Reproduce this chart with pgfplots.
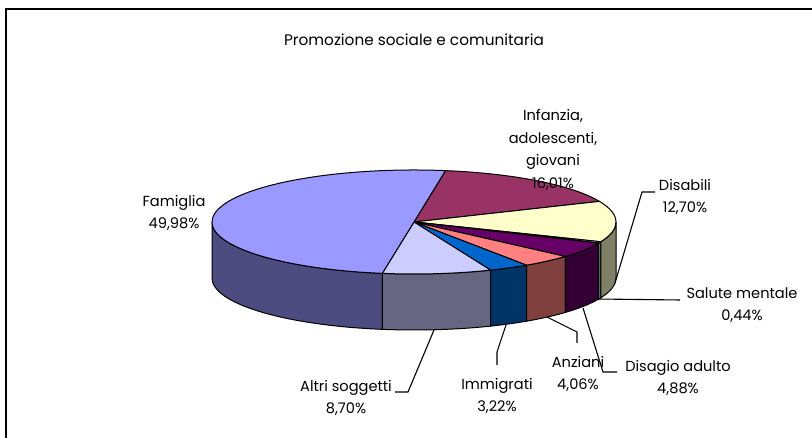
\documentclass[border=0pt]{standalone}
\usepackage{pgfplots}
\pgfplotsset{compat=1.18}
\usepackage{fontspec}
\setmainfont{Poppins}
\definecolor{cFam}{HTML}{9999FF}\definecolor{sFam}{HTML}{4C4C80}
\definecolor{cInf}{HTML}{993366}
\definecolor{cDis}{HTML}{FFFFCC}\definecolor{sDis}{HTML}{808066}
\definecolor{cSal}{HTML}{CCFFFF}\definecolor{sSal}{HTML}{668080}
\definecolor{cDisa}{HTML}{660066}\definecolor{sDisa}{HTML}{330033}
\definecolor{cAnz}{HTML}{FF8080}\definecolor{sAnz}{HTML}{804040}
\definecolor{cImm}{HTML}{0066CC}\definecolor{sImm}{HTML}{003366}
\definecolor{cAlt}{HTML}{CCCCFF}\definecolor{sAlt}{HTML}{666680}
% data (percent)
\def\vInf{16.01}\def\vDis{12.70}\def\vSal{0.44}\def\vDisa{4.88}
\def\vAnz{4.06}\def\vImm{3.22}\def\vAlt{8.70}\def\vFam{49.98}
\pgfmathsetmacro\aA{81}
\pgfmathsetmacro\aB{\aA-3.6*\vInf}
\pgfmathsetmacro\aC{\aB-3.6*\vDis}
\pgfmathsetmacro\aD{\aC-3.6*\vSal}
\pgfmathsetmacro\aE{\aD-3.6*\vDisa}
\pgfmathsetmacro\aF{\aE-3.6*\vAnz}
\pgfmathsetmacro\aG{\aF-3.6*\vImm}
\pgfmathsetmacro\aH{\aG-3.6*\vAlt}
\pgfmathsetmacro\aI{\aH-3.6*\vFam}
\newcommand\side[3]{\filldraw[fill=#3,draw=black,line width=1pt,line join=round] (axis cs:414,216) ++(#1:202pt and 52pt) arc[start angle=#1,end angle=#2,x radius=202pt,y radius=52pt] -- ++(0pt,-56pt) arc[start angle=#2,end angle=#1,x radius=202pt,y radius=52pt] -- cycle;}
\newcommand\slice[3]{\filldraw[fill=#3,draw=black,line width=1pt,line join=round] (axis cs:414,216) -- ++(#1:202pt and 52pt) arc[start angle=#1,end angle=#2,x radius=202pt,y radius=52pt] -- cycle;}
\newcommand\lab{\fontsize{14.6}{22.5}\selectfont}
\begin{document}
\begin{tikzpicture}
\useasboundingbox (0,0) rectangle (812pt,438pt);
\begin{axis}[x=1pt,y=1pt,xmin=0,xmax=812,ymin=0,ymax=438,hide axis,clip=false,
  at={(0,0)},anchor=origin]
\side{-180}{\aH}{sFam}
\side{\aH}{\aG}{sAlt}
\side{\aG}{\aF}{sImm}
\side{\aF}{\aE}{sAnz}
\side{\aE}{\aD}{sDisa}
\side{\aD}{\aC}{sSal}
\side{\aC}{0}{sDis}
\slice{\aA}{\aB}{cInf}
\slice{\aB}{\aC}{cDis}
\slice{\aC}{\aD}{cSal}
\slice{\aD}{\aE}{cDisa}
\slice{\aE}{\aF}{cAnz}
\slice{\aF}{\aG}{cImm}
\slice{\aG}{\aH}{cAlt}
\slice{\aH}{\aI}{cFam}
% frame
\draw[line width=1.8pt] (axis cs:6,0) -- (axis cs:6,429) -- (axis cs:812,429);
% leaders
\draw[line width=1.1pt] (axis cs:655,246) -- (axis cs:642,246) -- (axis cs:615,155);
\draw[line width=1.1pt] (axis cs:597,139) -- (axis cs:680,138);
\draw[line width=1.1pt] (axis cs:583,130) -- (axis cs:603,66) -- (axis cs:617,66);
\draw[line width=1.1pt] (axis cs:547,121) -- (axis cs:577,106) -- (axis cs:577,95);
\draw[line width=1.1pt] (axis cs:506,113) -- (axis cs:497,86) -- (axis cs:497,73);
\draw[line width=1.1pt] (axis cs:434,108) -- (axis cs:408,46) -- (axis cs:395,46);
% labels
\node[font=\fontsize{15.3}{20}\selectfont] at (axis cs:414,398) {Promozione sociale e comunitaria};
\node[font=\lab,align=center] at (axis cs:174,225) {Famiglia\\49,98\%};
\node[font=\lab,align=center] at (axis cs:553,288) {Infanzia,\\adolescenti,\\giovani\\16,01\%};
\node[font=\lab,align=center] at (axis cs:685,241) {Disabili\\12,70\%};
\node[font=\lab,align=center] at (axis cs:742,133) {Salute mentale\\0,44\%};
\node[font=\lab,align=center] at (axis cs:678,60) {Disagio adulto\\4,88\%};
\node[font=\lab,align=center] at (axis cs:578,64) {Anziani\\4,06\%};
\node[font=\lab,align=center] at (axis cs:497,42) {Immigrati\\3,22\%};
\node[font=\lab,align=center] at (axis cs:346,40) {Altri soggetti\\8,70\%};
\end{axis}
\end{tikzpicture}
\end{document}
